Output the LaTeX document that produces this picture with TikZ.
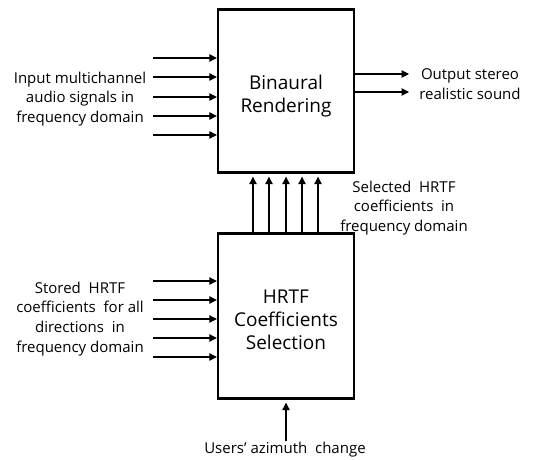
\documentclass[tikz,border=0pt]{standalone}
\usepackage{fontspec}
\setmainfont{Open Sans}
\usetikzlibrary{arrows.meta}
\tikzset{
  blockbox/.style = {draw = black, line width = 2.4pt, minimum width = 136pt, minimum height = 163pt, inner sep = 0pt},
  blocktext/.style = {align = center, inner sep = 0pt, font = \fontsize{19}{22.8}\selectfont},
  label/.style = {align = center, inner sep = 1pt, font = \fontsize{15}{19.8}\selectfont},
  sig/.style = {line width = 1.1pt, -{Triangle[length = 7.5pt, width = 7.5pt]}}
}
\begin{document}
\begin{tikzpicture}[x = 1pt, y = -1pt]
\useasboundingbox (0,0) rectangle (533,460);
\node[blockbox] (bin) at (286,91) {};
\node[blockbox, minimum height = 165pt] (sel) at (286,316) {};
\node[blocktext] (bintext) at (286,96) {Binaural\\Rendering};
\node[blocktext] (seltext) at (286,320) {HRTF\\Coefficients\\Selection};
\node[label] (inlabel) at (80,99) {Input multichannel\\audio signals in\\frequency domain};
\node[label] (outlabel) at (470,84) {Output stereo\\realistic sound};
\node[label] (hrtflabel) at (404,208) {Selected\ \ HRTF\\coefficients\ \ in\\frequency domain};
\node[label] (storelabel) at (80,319) {Stored\ \ HRTF\\coefficients\ \ for all\\directions\ \ in\\frequency domain};
\node[label] (userlabel) at (285,450) {Users' azimuth\ \ change};
\foreach \y [count = \n] in {58,77,97,116,135} {
  \coordinate (in\n) at (153,\y);
  \draw[sig] (in\n) -- (in\n -| bin.west);
}
\foreach \y [count = \n] in {74,92} {
  \coordinate (out\n) at (409,\y);
  \draw[sig] (out\n -| bin.east) -- (out\n);
}
\foreach \x [count = \n] in {253,269,286,302,318} {
  \coordinate (up\n) at (\x,233);
  \draw[sig, shorten > = 3pt] (up\n |- sel.north) -- (up\n |- bin.south);
}
\foreach \y [count = \n] in {281,300,319,338,357} {
  \coordinate (st\n) at (153,\y);
  \draw[sig] (st\n) -- (st\n -| sel.west);
}
\draw[sig, shorten > = 3pt] (userlabel.north -| sel.south) -- (sel.south);
\end{tikzpicture}
\end{document}
